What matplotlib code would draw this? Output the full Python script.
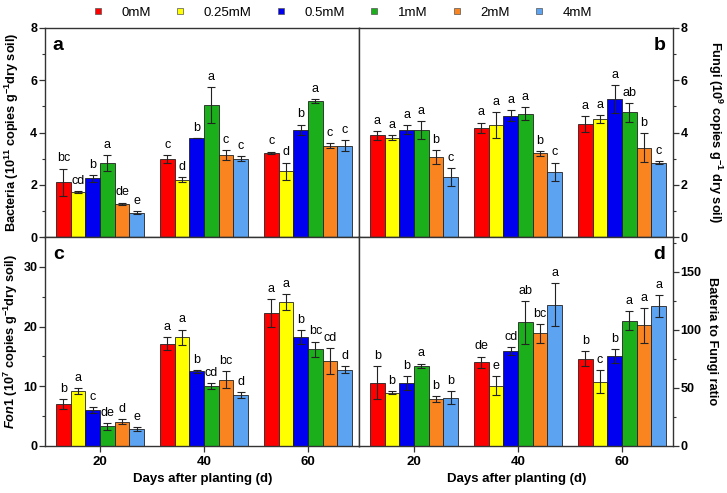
import numpy as np
import matplotlib
matplotlib.use("Agg")
import matplotlib.pyplot as plt
from matplotlib.lines import Line2D

plt.rcParams['font.family'] = ['Liberation Sans', 'DejaVu Sans']
plt.rcParams['mathtext.fontset'] = 'custom'
plt.rcParams['mathtext.rm'] = 'Liberation Sans:bold'
plt.rcParams['mathtext.it'] = 'Liberation Sans:bold:italic'
plt.rcParams['mathtext.bf'] = 'Liberation Sans:bold'
plt.rcParams['mathtext.default'] = 'rm'

days = ["20", "40", "60"]
treatments = ["0mM", "0.25mM", "0.5mM", "1mM", "2mM", "4mM"]
colors = ["#FF0000", "#FFFF00", "#0000F0", "#1BAF1B", "#FA8420", "#5CA3F2"]

# rows: day 20, 40, 60 ; cols: treatments
bact = [[2.10, 1.72, 2.25, 2.83, 1.27, 0.93],
        [3.00, 2.20, 3.80, 5.05, 3.13, 3.00],
        [3.22, 2.52, 4.10, 5.20, 3.50, 3.50]]
bact_err = [[0.52, 0.05, 0.13, 0.32, 0.05, 0.06],
            [0.15, 0.10, 0.00, 0.68, 0.20, 0.10],
            [0.05, 0.33, 0.20, 0.08, 0.10, 0.20]]
bact_lab = [["bc", "cd", "b", "a", "de", "e"],
            ["c", "d", "b", "a", "c", "c"],
            ["c", "d", "b", "a", "c", "c"]]

fungi = [[3.90, 3.80, 4.10, 4.10, 3.05, 2.30],
         [4.18, 4.28, 4.65, 4.72, 3.20, 2.50],
         [4.32, 4.52, 5.28, 4.77, 3.42, 2.85]]
fungi_err = [[0.17, 0.10, 0.17, 0.35, 0.27, 0.35],
             [0.20, 0.50, 0.22, 0.25, 0.10, 0.35],
             [0.30, 0.15, 0.52, 0.37, 0.55, 0.05]]
fungi_lab = [["a", "a", "a", "a", "b", "c"],
             ["a", "a", "a", "a", "b", "c"],
             ["a", "a", "a", "ab", "b", "c"]]

fon = [[7.0, 9.2, 6.0, 3.3, 4.1, 2.8],
       [17.1, 18.2, 12.5, 10.1, 11.1, 8.5],
       [22.3, 24.1, 18.2, 16.2, 14.2, 12.8]]
fon_err = [[0.8, 0.5, 0.5, 0.6, 0.4, 0.3],
           [1.1, 1.3, 0.2, 0.5, 1.4, 0.5],
           [2.3, 1.4, 1.2, 1.3, 2.2, 0.6]]
fon_lab = [["b", "a", "c", "de", "d", "e"],
           ["a", "a", "b", "cd", "bc", "d"],
           ["a", "a", "b", "bc", "cd", "d"]]

ratio = [[54.5, 46.0, 54.0, 69.0, 40.5, 41.5],
         [72.0, 52.0, 82.0, 106.5, 97.0, 121.5],
         [75.0, 55.5, 77.5, 108.0, 104.0, 120.5]]
ratio_err = [[14.0, 1.5, 6.0, 2.0, 2.5, 5.5],
             [5.0, 8.0, 3.5, 18.5, 8.0, 18.5],
             [6.5, 10.0, 6.0, 8.0, 15.0, 9.5]]
ratio_lab = [["b", "b", "b", "a", "b", "b"],
             ["de", "e", "cd", "ab", "bc", "a"],
             ["b", "c", "b", "a", "a", "a"]]

W, H = 727, 493
fig = plt.figure(figsize=(W / 100, H / 100), dpi=100)

xl, xm, xr = 45 / W, 359 / W, 673 / W
yt, ym, yb = 1 - 28 / H, 1 - 237 / H, 1 - 446 / H

axA = fig.add_axes([xl, ym, xm - xl, yt - ym])
axB = fig.add_axes([xm, ym, xr - xm, yt - ym])
axC = fig.add_axes([xl, yb, xm - xl, ym - yb])
axD = fig.add_axes([xm, yb, xr - xm, ym - yb])

bw = 0.141
x = np.arange(len(days))
FS = 9.5

def draw(ax, vals, errs, labs, ylim, major, right, bottom, letter, ylabel,
         labx):
    vals = np.array(vals)
    errs = np.array(errs)
    for j in range(len(treatments)):
        xs = x + (j - 2.5) * bw
        ax.bar(xs, vals[:, j], bw, color=colors[j], edgecolor="#222222",
               linewidth=0.6, zorder=2)
        ax.errorbar(xs, vals[:, j], yerr=errs[:, j], fmt="none",
                    ecolor="#222222", elinewidth=0.8, capsize=3.2,
                    capthick=0.8, zorder=3)
        for i in range(len(days)):
            ax.annotate(labs[i][j], (xs[i], vals[i, j] + errs[i, j]),
                        xytext=(0, 3), textcoords="offset points",
                        ha="center", va="bottom", fontsize=9, zorder=4)
    ax.set_xlim(-0.53, 2.49)
    ax.set_ylim(*ylim)
    ax.set_yticks(np.arange(0, ylim[1] + 0.001, major))
    ax.set_yticks(np.arange(0, ylim[1] + 0.001, major / 2), minor=True)
    for s in ax.spines.values():
        s.set_linewidth(1.0)
        s.set_color("#333333")
    ax.set_xticks(x)
    if bottom:
        ax.set_xticklabels(days, fontsize=FS, fontweight="bold")
        ax.tick_params(axis="x", direction="out", length=4, width=0.9,
                       pad=3, color="#333333")
        ax.set_xlabel("Days after planting (d)", fontsize=FS,
                      fontweight="bold", va="center")
        ax.xaxis.set_label_coords(0.503, -0.158)
    else:
        ax.tick_params(axis="x", length=0, labelbottom=False)
    if right:
        ax.yaxis.tick_right()
        ax.yaxis.set_label_position("right")
        ax.set_ylabel(ylabel, fontsize=9.2, fontweight="bold", rotation=270,
                      va="center", ha="center")
    else:
        ax.set_ylabel(ylabel, fontsize=9.2, fontweight="bold",
                      va="center", ha="center")
    ax.yaxis.set_label_coords(labx, 0.5)
    ax.tick_params(axis="y", which="major", direction="out", length=4,
                   width=0.9, labelsize=9, color="#333333", pad=1.5)
    ax.tick_params(axis="y", which="minor", direction="out", length=2.5,
                   width=0.8, color="#333333")
    for t in ax.get_yticklabels():
        t.set_fontweight("bold")
    if right:
        ax.text(0.975, 0.955, letter, transform=ax.transAxes, ha="right",
                va="top", fontsize=14, fontweight="bold")
    else:
        ax.text(0.025, 0.955, letter, transform=ax.transAxes, ha="left",
                va="top", fontsize=14, fontweight="bold")

draw(axA, bact, bact_err, bact_lab, (0, 8), 2, False, False, "a",
     r"Bacteria (10$^{11}$ copies g$^{-1}$dry soil)", -0.105)
draw(axB, fungi, fungi_err, fungi_lab, (0, 8), 2, True, False, "b",
     r"Fungi (10$^{9}$ copies g$^{-1}$ dry soil)", 1.134)
draw(axC, fon, fon_err, fon_lab, (0, 35), 10, False, True, "c",
     r"$\mathit{Fon1}$ (10$^{7}$ copies g$^{-1}$dry soil)", -0.108)
draw(axD, ratio, ratio_err, ratio_lab, (0, 180), 50, True, True, "d",
     "Bateria to Fungi ratio", 1.124)

handles = [Line2D([0], [0], marker="s", linestyle="none", markersize=4.5,
                  markerfacecolor=c, markeredgecolor="#555555",
                  markeredgewidth=0.5) for c in colors]
fig.legend(handles, treatments, loc="center", ncol=6,
           bbox_to_anchor=(0.47, 1 - 13 / H), frameon=False, fontsize=9.5,
           handletextpad=1.3, columnspacing=1.7, handlelength=1.0)

fig.savefig("out.png", dpi=100)
